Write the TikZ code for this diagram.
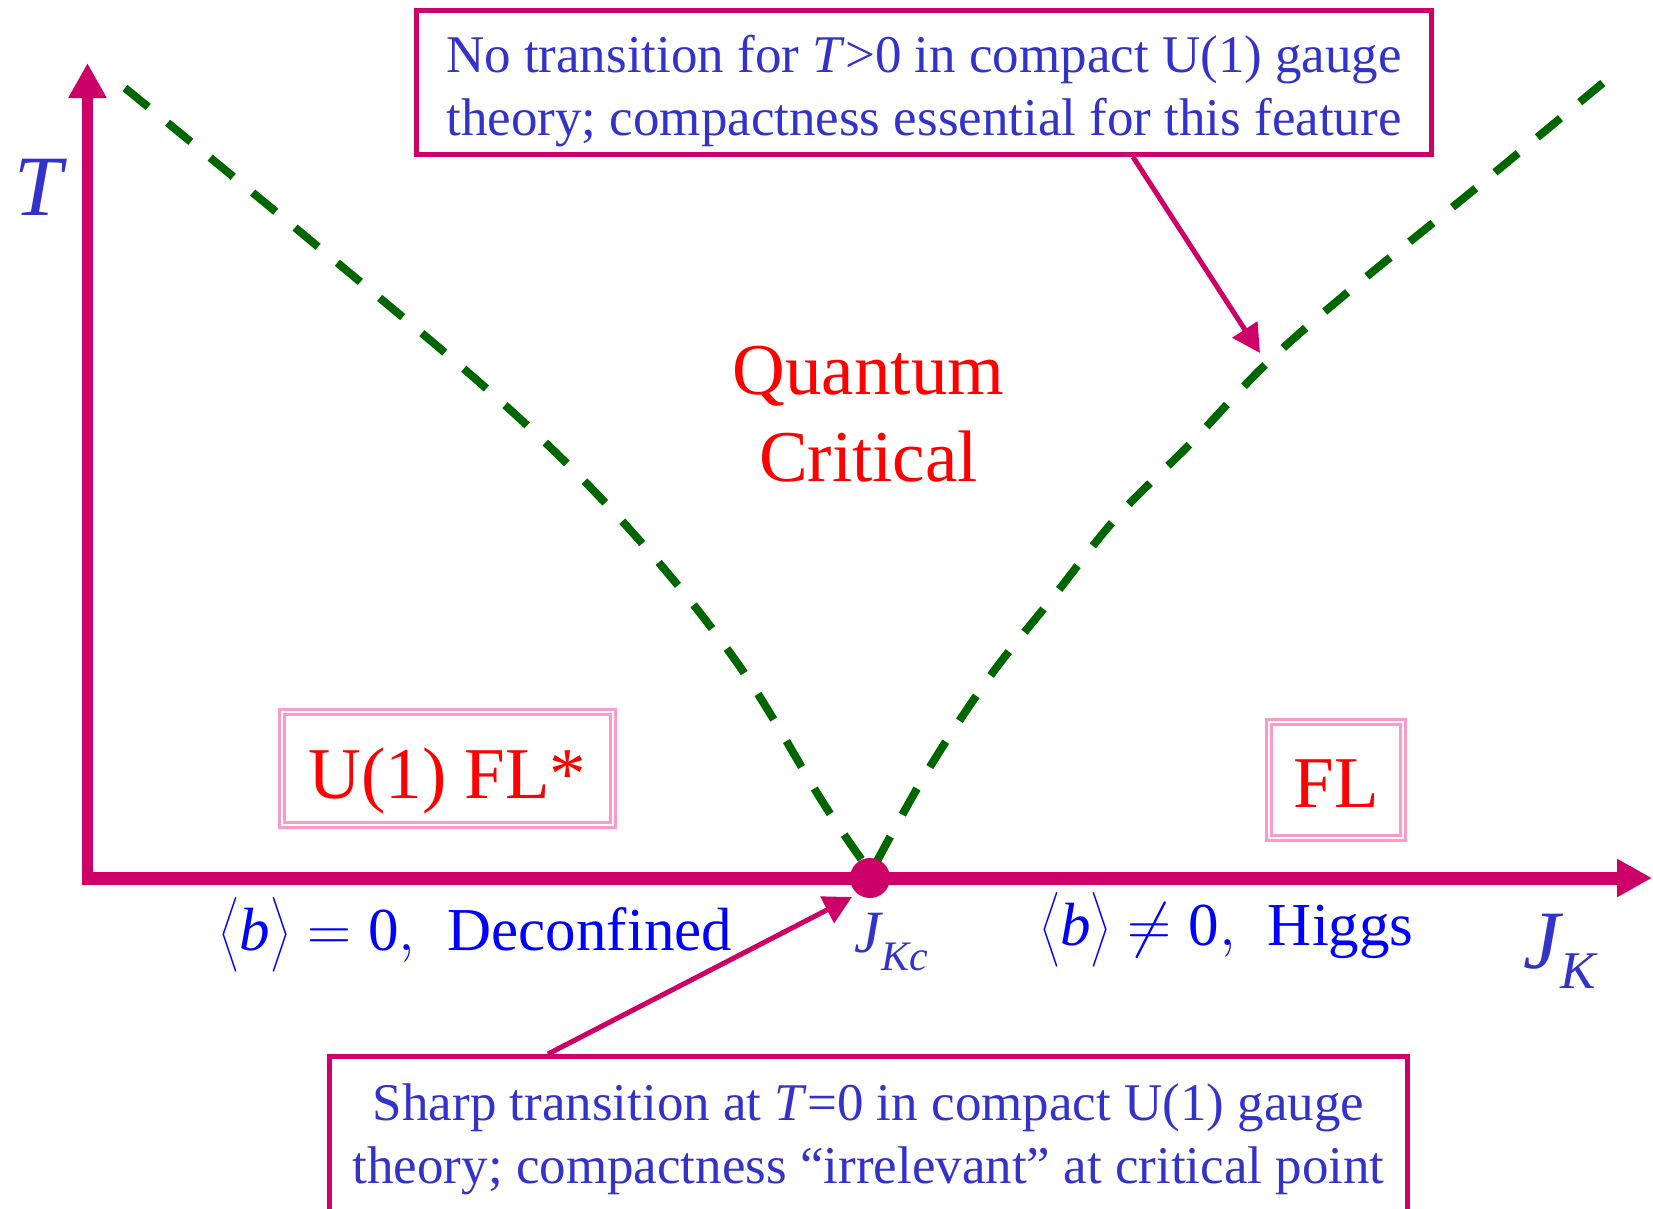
\RequirePackage{fix-cm}
\documentclass[tikz,border=0pt]{standalone}
\usepackage{exscale}
\usepackage{fontspec}
\setmainfont{Liberation Serif}
\usetikzlibrary{arrows.meta, positioning}
\definecolor{axisred}{HTML}{CC0066}
\definecolor{linegreen}{HTML}{006600}
\definecolor{framepink}{HTML}{FF99CC}
\definecolor{labelblue}{HTML}{3333CC}
\definecolor{phaseblue}{HTML}{0000FF}

\begin{document}
\begin{tikzpicture}[x=1pt, y=-1pt,
      axis/.style={draw=axisred, line width=12pt, -{Triangle[length=35pt, width=36pt]}},
      bound/.style={draw=linegreen, line width=8pt, dash pattern=on 30pt off 25pt},
      phase/.style={draw=framepink, double=white, double distance=2pt, line width=3pt, inner sep=0pt, text=red, font=\fontsize{73}{87}\selectfont},
      note/.style={draw=axisred, line width=5pt, inner sep=0pt, align=center, text=labelblue, font=\fontsize{53}{63}\selectfont},
      pointer/.style={draw=axisred, line width=5pt, -{Triangle[length=28pt, width=29pt]}},
      lab/.style={text=labelblue, font=\fontsize{#1}{#1}\selectfont\itshape},
      side/.style={anchor=base, text=phaseblue, font=\fontsize{61}{61}\selectfont},
    ]
      \useasboundingbox (0,0) rectangle (1653,1208);
      \clip (0,0) rectangle (1653,1208);
      \draw[bound] plot[smooth, tension=0.6] coordinates {(125,88) (316,245) (506,406) (632,532) (738,664) (822,801) (864,863)};
      \draw[bound] plot[smooth, tension=0.6] coordinates {(876,863) (928,770) (991,675) (1054,596) (1117,517) (1191,443) (1265,365) (1348,292) (1476,188) (1616,72)};
      \coordinate (origin) at (87.5,878);
      \coordinate (tend) at (87.5,63);
      \coordinate (jend) at (1652,878);
      \draw[axis, line width=11pt] ([yshift=6.5pt]origin) -- (tend);
      \draw[axis, line width=13pt] ([xshift=-5.5pt]origin) -- (jend);
      \node[circle, fill=axisred, minimum size=40pt, inner sep=0pt] (qcp) at (870,878) {};
      \node[lab=86, anchor=base] (tlab) at (38,215) {T};
      \node[lab=83, anchor=base west] (jklab) at (1520,968) {J\raisebox{-20pt}{\fontsize{53}{53}\selectfont K}};
      \node[lab=60, anchor=base west] (jkclab) at (851,952) {J\raisebox{-18pt}{\fontsize{42}{42}\selectfont Kc}};
      \node[side] (deconf) at (476,950) {$\left\langle\vrule height 0.85em depth 0.35em width 0pt\mbox{\itshape b}\right\rangle = \mbox{0},\;$ Deconfined};
      \node[side] (higgs) at (1227,945) {$\left\langle\vrule height 0.85em depth 0.35em width 0pt\mbox{\itshape b}\right\rangle \neq \mbox{0},\;$ Higgs};
      \node[align=center, text=red, font=\fontsize{73}{87}\selectfont] (qc) at (868.5,414) {Quantum\\Critical};
      \node[phase, minimum width=331pt, minimum height=113pt, text height=59pt, text depth=0pt] (flstar) at (447.5,768.5) {U(1) FL*};
      \node[phase, minimum width=134pt, minimum height=116pt, text height=54pt, text depth=0pt] (fl) at (1336,780) {FL};
      \node[note, minimum width=1015pt, minimum height=144pt] (note1) at (924,82.5) {\rule{0pt}{54pt}No transition for \textit{T}>0 in compact U(1) gauge\\theory; compactness essential for this feature};
      \node[note, minimum width=1078pt, minimum height=166pt] (note2) at (868.5,1139.5) {Sharp transition at \textit{T}=0 in compact U(1) gauge\\theory; compactness “irrelevant” at critical point};
      \coordinate (hit) at (1260,353);
      \coordinate (qcptip) at (852,897);
      \draw[pointer] ([xshift=209pt]note1.south) -- (hit);
      \draw[pointer] ([xshift=-320.5pt]note2.north) -- (qcptip);
    \end{tikzpicture}
\end{document}
